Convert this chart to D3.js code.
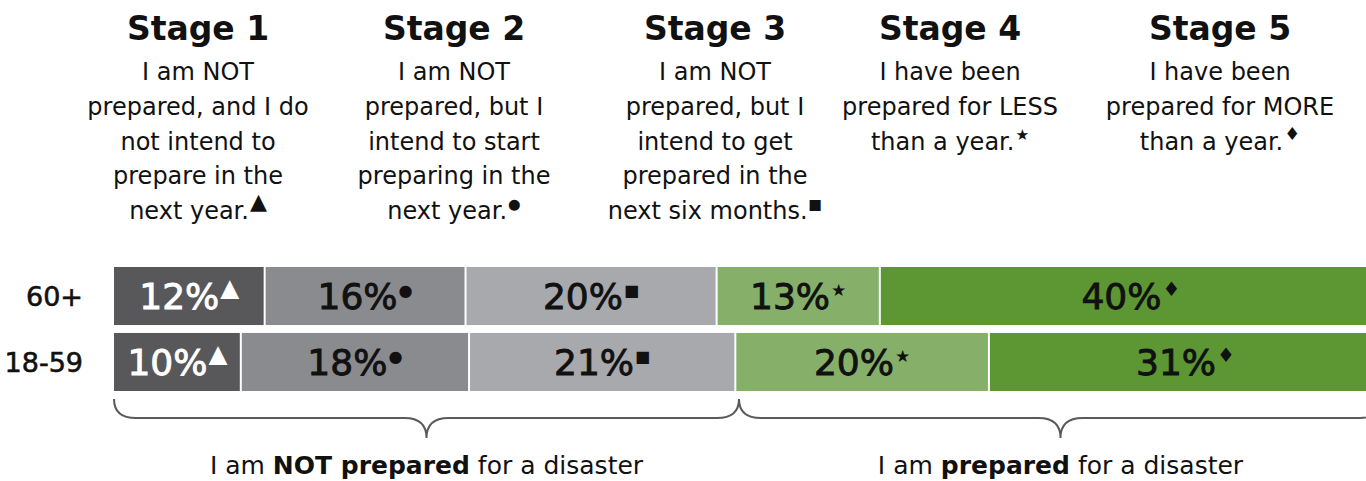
<!DOCTYPE html>
<html>
<head>
<meta charset="utf-8">
<script src="https://cdn.jsdelivr.net/npm/d3@7/dist/d3.min.js"></script>
<style>
  html, body { margin: 0; padding: 0; background: #fff; }
  svg { display: block; font-family: "DejaVu Sans", Verdana, sans-serif; }
</style>
</head>
<body>
<svg id="chart" width="1366" height="481"></svg>
<script>
// Age groups and the share of each in the five preparedness stages
const groups = ["60+", "18-59"];
const values60plus = [12, 16, 20, 13, 40];
const values18to59 = [10, 18, 21, 20, 31];
const stageNames = ["Stage 1", "Stage 2", "Stage 3", "Stage 4", "Stage 5"];
const stageMarkers = ["▲", "●", "■", "★", "♦"];
const stageText = [
  ["I am NOT", "prepared, and I do", "not intend to", "prepare in the", "next year."],
  ["I am NOT", "prepared, but I", "intend to start", "preparing in the", "next year."],
  ["I am NOT", "prepared, but I", "intend to get", "prepared in the", "next six months."],
  ["I have been", "prepared for LESS", "than a year."],
  ["I have been", "prepared for MORE", "than a year."]
];
const groupLabels = [
  [{t: "I am ", b: false}, {t: "NOT prepared", b: true}, {t: " for a disaster", b: false}],
  [{t: "I am ", b: false}, {t: "prepared", b: true}, {t: " for a disaster", b: false}]
];

const stageColors = ["#58585a", "#8a8b8e", "#a8a9ac", "#86b06a", "#5c9733"];
const labelColors = ["#ffffff", "#111", "#111", "#111", "#111"];
// relative marker sizes so the glyphs read at a similar visual weight
const markerScale = [1.3, 0.85, 0.85, 0.9, 1.05];

const svg = d3.select("#chart");

// Layout
const barLeft = 114, barRight = 1382;
const rows = d3.scaleBand().domain(groups).range([267, 391]).paddingInner(0.12);
const headerX = [198, 454, 715, 950, 1220];

// Stage headers
stageNames.forEach((name, i) => {
  const g = svg.append("g").attr("transform", `translate(${headerX[i]},0)`);
  g.append("text").attr("y", 40).attr("text-anchor", "middle")
    .attr("font-size", 33).attr("font-weight", 700).attr("fill", "#111").text(name);
  const lines = stageText[i];
  lines.forEach((ln, j) => {
    const t = g.append("text").attr("y", 80 + j * 34.8).attr("text-anchor", "middle")
      .attr("font-size", 24).attr("fill", "#111");
    t.append("tspan").text(ln);
    if (j === lines.length - 1) {
      t.append("tspan").attr("font-size", 17 * markerScale[i]).attr("dy", -10).attr("dx", 1)
        .text(stageMarkers[i]);
    }
  });
});

// Stacked bars, each row spread across its own total
const rowData = [values60plus, values18to59];
groups.forEach((grp, r) => {
  const vals = rowData[r];
  const x = d3.scaleLinear().domain([0, d3.sum(vals)]).range([barLeft, barRight]);
  const starts = d3.cumsum([0, ...vals]);
  const y0 = rows(grp);
  const g = svg.append("g");

  g.selectAll("rect").data(vals).join("rect")
    .attr("x", (d, i) => x(starts[i]) + (i ? 1 : 0))
    .attr("y", y0)
    .attr("width", (d, i) => x(starts[i] + d) - x(starts[i]) - (i ? 2 : 1))
    .attr("height", rows.bandwidth())
    .attr("fill", (d, i) => stageColors[i]);

  g.selectAll("text.val").data(vals).join("text")
    .attr("class", "val")
    .attr("x", (d, i) => (x(starts[i]) + x(starts[i] + d)) / 2)
    .attr("y", y0 + rows.bandwidth() / 2 + 13)
    .attr("text-anchor", "middle")
    .attr("font-size", 36)
    .attr("fill", (d, i) => labelColors[i])
    .attr("stroke", (d, i) => labelColors[i])
    .attr("stroke-width", 0.9)
    .each(function (d, i) {
      const t = d3.select(this);
      t.append("tspan").text(d + "%");
      t.append("tspan").attr("font-size", 19 * markerScale[i]).attr("dy", -13).attr("dx", 1)
        .attr("stroke-width", 0).text(stageMarkers[i]);
    });

  svg.append("text")
    .attr("x", 83).attr("y", y0 + rows.bandwidth() / 2 + 10)
    .attr("text-anchor", "end").attr("font-size", 27)
    .attr("fill", "#111").attr("stroke", "#111").attr("stroke-width", 0.6)
    .text(grp);
});

// Curly braces grouping the stages
function bracePath(x0, x1, yTop, yLine, yTip) {
  const m = (x0 + x1) / 2, r = 22;
  const p = d3.path();
  p.moveTo(x0, yTop);
  p.quadraticCurveTo(x0, yLine, x0 + r, yLine);
  p.lineTo(m - r, yLine);
  p.quadraticCurveTo(m, yLine, m, yTip);
  p.quadraticCurveTo(m, yLine, m + r, yLine);
  p.lineTo(x1 - r, yLine);
  p.quadraticCurveTo(x1, yLine, x1, yTop);
  return p.toString();
}
const braceSplit = 739;
const braces = [[barLeft, braceSplit], [braceSplit, barRight]];
braces.forEach(([a, b], i) => {
  svg.append("path").attr("d", bracePath(a, b, 399, 418, 438))
    .attr("fill", "none").attr("stroke", "#5a5a5a").attr("stroke-width", 2);
  const t = svg.append("text").attr("x", (a + b) / 2).attr("y", 474)
    .attr("text-anchor", "middle").attr("font-size", 25).attr("fill", "#111");
  groupLabels[i].forEach(part => {
    t.append("tspan").attr("font-weight", part.b ? 700 : 400).text(part.t);
  });
});
</script>
</body>
</html>
